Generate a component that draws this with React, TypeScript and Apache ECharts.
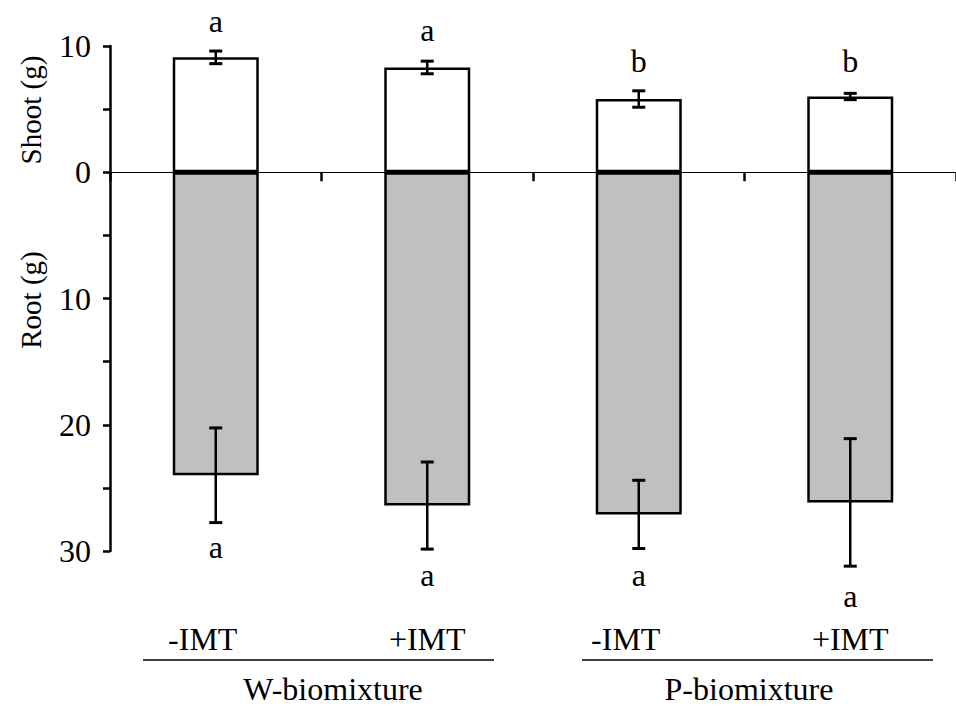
import React, { useEffect, useRef } from "react";
import * as echarts from "echarts";

// ---- data ----
const groups = ["W-biomixture", "P-biomixture"];
const treatments = ["-IMT", "+IMT", "-IMT", "+IMT"];
const categories = ["W -IMT", "W +IMT", "P -IMT", "P +IMT"];
const shootMean = [9.1, 8.3, 5.8, 6.0];
const shootErr = [0.5, 0.5, 0.65, 0.25];
const rootMean = [24.0, 26.4, 27.1, 26.15];
const rootErr = [3.75, 3.45, 2.7, 5.05];
const shootLetters = ["a", "a", "b", "b"];
const rootLetters = ["a", "a", "a", "a"];
const shootLetterY = [12.0, 11.3, 8.8, 8.8];
const rootLetterY = [29.7, 31.9, 31.9, 33.6];
const yMin = -30;
const yMax = 10;
const yStep = 5;

const FONT = "Liberation Serif";
const FS = 32;
const FS_NAME = 29;

export default function App() {
  const ref = useRef<HTMLDivElement>(null);
  useEffect(() => {
    if (!ref.current) return;
    const chart = echarts.init(ref.current, null, { renderer: "svg" });

    const errData: number[][] = [];
    categories.forEach((_, i) => {
      errData.push([i, shootMean[i] - shootErr[i], shootMean[i] + shootErr[i]]);
    });
    categories.forEach((_, i) => {
      errData.push([i, -(rootMean[i] - rootErr[i]), -(rootMean[i] + rootErr[i])]);
    });

    const letterData: number[][] = [];
    const letterText: string[] = [];
    categories.forEach((_, i) => {
      letterData.push([i, shootLetterY[i]]);
      letterText.push(shootLetters[i]);
    });
    categories.forEach((_, i) => {
      letterData.push([i, -rootLetterY[i]]);
      letterText.push(rootLetters[i]);
    });

    const option: any = {
      animation: false,
      backgroundColor: "#fff",
      textStyle: { fontFamily: FONT },
      grid: { left: 110, right: -4, top: 46, bottom: 163, containLabel: false },
      xAxis: [
        {
          type: "category",
          data: categories,
          axisLine: { onZero: true, lineStyle: { color: "#000", width: 1 } },
          axisTick: { show: true, inside: false, length: 9, lineStyle: { color: "#000", width: 2.5 } },
          axisLabel: { show: false },
          splitLine: { show: false },
        },
        {
          type: "category",
          data: categories,
          position: "bottom",
          axisLine: { show: false },
          axisTick: { show: false },
          axisLabel: {
            show: true,
            margin: 88,
            verticalAlign: "middle",
            formatter: (_v: string, i: number) =>
              treatments[i].startsWith("-") ? `{m|${treatments[i]}}` : `{p|${treatments[i]}}`,
            rich: {
              m: { fontFamily: FONT, fontSize: FS, color: "#000", padding: [0, 26, 0, 0] },
              p: { fontFamily: FONT, fontSize: FS, color: "#000", padding: [0, 0, 0, 0] },
            },
          },
        },
      ],
      yAxis: {
        type: "value",
        min: yMin,
        max: yMax,
        interval: yStep,
        axisLine: { show: true, lineStyle: { color: "#000", width: 2.5 } },
        axisTick: { show: true, inside: false, length: 7, lineStyle: { color: "#000", width: 2.5 } },
        axisLabel: {
          margin: 19,
          fontFamily: FONT,
          fontSize: FS,
          color: "#000",
          formatter: (v: number) => (v % 10 === 0 ? String(Math.abs(v)) : ""),
        },
        splitLine: { show: false },
      },
      series: [
        {
          type: "bar",
          name: "Shoot",
          data: shootMean,
          barWidth: 86,
          barGap: "-100%",
          itemStyle: { color: "#fff", borderColor: "#000", borderWidth: 2.5 },
          z: 2,
        },
        {
          type: "bar",
          name: "Root",
          data: rootMean.map((v) => -v),
          barWidth: 86,
          barGap: "-100%",
          itemStyle: { color: "#c0c0c0", borderColor: "#000", borderWidth: 2.5 },
          z: 3,
        },
        {
          type: "custom",
          name: "err",
          data: errData,
          clip: false,
          z: 5,
          encode: { x: 0, y: [1, 2] },
          renderItem: (_p: any, api: any) => {
            const x = api.value(0);
            const a = api.coord([x, api.value(1)]);
            const b = api.coord([x, api.value(2)]);
            const cap = 6.5;
            const st = { stroke: "#000", lineWidth: 2.5 };
            return {
              type: "group",
              children: [
                { type: "line", shape: { x1: a[0], y1: a[1], x2: b[0], y2: b[1] }, style: st },
                { type: "line", shape: { x1: a[0] - cap, y1: a[1], x2: a[0] + cap, y2: a[1] }, style: { stroke: "#000", lineWidth: 3 } },
                { type: "line", shape: { x1: b[0] - cap, y1: b[1], x2: b[0] + cap, y2: b[1] }, style: { stroke: "#000", lineWidth: 3 } },
              ],
            };
          },
        },
        {
          type: "custom",
          name: "letters",
          data: letterData,
          clip: false,
          z: 6,
          encode: { x: 0, y: 1 },
          renderItem: (p: any, api: any) => {
            const c = api.coord([api.value(0), api.value(1)]);
            return {
              type: "text",
              x: c[0],
              y: c[1],
              style: {
                text: letterText[p.dataIndex],
                fontFamily: FONT,
                fontSize: FS,
                fill: "#000",
                align: "center",
                verticalAlign: "middle",
              },
            };
          },
        },
      ],
      graphic: [
        {
          type: "text",
          x: 31,
          y: 110,
          rotation: Math.PI / 2,
          style: { text: "Shoot (g)", fontFamily: FONT, fontSize: FS_NAME, fill: "#000", align: "center", verticalAlign: "middle" },
        },
        {
          type: "text",
          x: 31,
          y: 300,
          rotation: Math.PI / 2,
          style: { text: "Root (g)", fontFamily: FONT, fontSize: FS_NAME, fill: "#000", align: "center", verticalAlign: "middle" },
        },
        { type: "line", shape: { x1: 143, y1: 660, x2: 494, y2: 660 }, style: { stroke: "#000", lineWidth: 1.5 } },
        { type: "line", shape: { x1: 582, y1: 660, x2: 933, y2: 660 }, style: { stroke: "#000", lineWidth: 1.5 } },
        {
          type: "text",
          x: 333,
          y: 689,
          style: { text: groups[0], fontFamily: FONT, fontSize: FS, fill: "#000", align: "center", verticalAlign: "middle" },
        },
        {
          type: "text",
          x: 749,
          y: 689,
          style: { text: groups[1], fontFamily: FONT, fontSize: FS, fill: "#000", align: "center", verticalAlign: "middle" },
        },
      ],
    };
    chart.setOption(option);
    return () => chart.dispose();
  }, []);
  return <div ref={ref} style={{ position: "absolute", left: 0, top: 0, width: 956, height: 714 }} />;
}
